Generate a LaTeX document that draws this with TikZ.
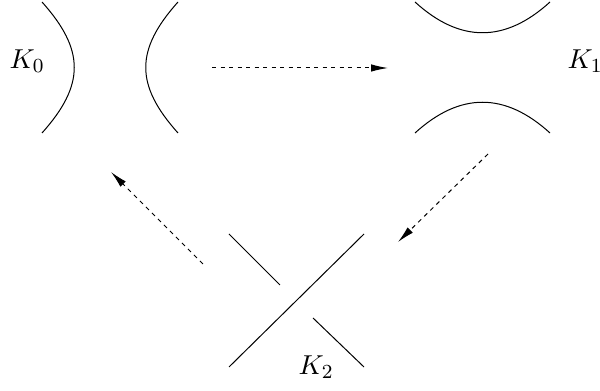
\documentclass[tikz,border=0pt]{standalone}
\usetikzlibrary{arrows.meta}
\begin{document}
\begin{tikzpicture}[x=0.4pt,y=-0.4pt,
  strand/.style={line width=0.4pt},
  move/.style={line width=0.4pt,dash pattern=on 1.7pt off 1.7pt,-{Latex[length=6.8pt,width=3pt]}},
  lbl/.style={inner sep=0pt,anchor=base west,font=\fontsize{11}{13}\selectfont}]
\useasboundingbox (0,0) rectangle (600,391);
% labels
\node[lbl] (k0) at (9,68.5) {$K_0$};
\node[lbl] (k1) at (567,68.5) {$K_1$};
\node[lbl] (k2) at (298,374.5) {$K_2$};
% K0 strands
\draw[strand] (42,2) .. controls (85,50) and (85,85) .. (42,133);
\draw[strand] (178,2) .. controls (135,50) and (135,85) .. (178,133);
% K1 strands
\draw[strand] (415,2) .. controls (460,43) and (505,43) .. (550,2);
\draw[strand] (415,133) .. controls (460,92) and (505,92) .. (550,133);
% K2 crossing
\draw[strand] (229,367) -- (364,234);
\draw[strand] (229,234) -- (280,285);
\draw[strand] (313,318) -- (364,367);
% moves
\coordinate (a1s) at (212,68);
\coordinate (a1e) at (388,68);
\coordinate (a2s) at (488,154);
\coordinate (a2e) at (398,242);
\coordinate (a3s) at (203,264);
\coordinate (a3e) at (111,172);
\draw[move] (a1s) -- (a1e);
\draw[move] (a2s) -- (a2e);
\draw[move] (a3s) -- (a3e);
\end{tikzpicture}
\end{document}
